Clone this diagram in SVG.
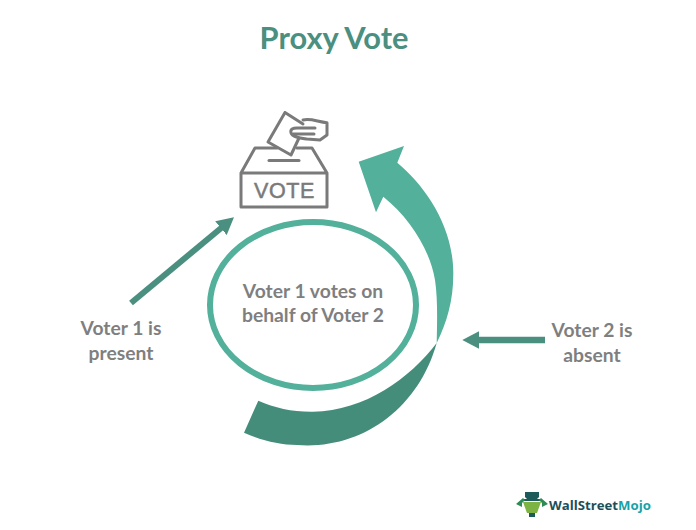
<svg xmlns="http://www.w3.org/2000/svg" width="696" height="530" viewBox="0 0 696 530">
<defs>
<style>
.t{font-family:Lato,"Open Sans",sans-serif;font-weight:700;font-size:19.3px;fill:#7f7f7f;text-anchor:middle}
.i{fill:none;stroke:#7a7a7a;stroke-width:3;stroke-linejoin:round;stroke-linecap:round}
</style>
<marker id="ah" markerUnits="userSpaceOnUse" markerWidth="17" markerHeight="18" refX="7" refY="9" orient="auto"><path d="M0 0L17 9L0 18Z" fill="#4a8f7f"/></marker>
</defs>
<rect width="696" height="530" fill="#fff"/>
<g id="title"><text x="334" y="49" text-anchor="middle" font-family="Lato,'Open Sans',sans-serif" font-weight="700" font-size="30.8" fill="#4a8f7f">Proxy Vote</text></g>
<g id="ballot-box">
<path class="i" d="M241 173H327V207H241ZM241 173L255 148H277M297 148H312L327 173"/>
<path class="i" d="M269 160.500H299"/>
<path class="i" d="M285 112.500L268 142L291 155L299 138M285 112.500L303 124"/>
<path class="i" d="M303 120C311 118 318 122 327 122.700V135L320 140L307 139C300 138 292 137 291 133C290 129 293 128 297 128L315 128M293 134H314"/>
<text x="284.500" y="197.700" text-anchor="middle" font-family="'Liberation Sans',sans-serif" font-size="21.500" letter-spacing="0.600" stroke="#7a7a7a" stroke-width="0.500" fill="#7a7a7a">VOTE</text>
</g>
<g id="connectors">
<path d="M131 303L226.300 223.700" fill="none" stroke="#4a8f7f" stroke-width="6" marker-end="url(#ah)"/>
<path d="M545 340H472.300" fill="none" stroke="#4a8f7f" stroke-width="6.500" marker-end="url(#ah)"/>
</g>
<g id="curved-arrow">
<path fill="#458d7b" d="M436.700 343C410 378 365 411 313 411.700C293 412 275 408 258.300 400.700L244 432.700C262 441 280 445 297 445C360 450 418 410 436.700 343Z"/>
<path fill="#53b09a" d="M358.700 161.700L404 146L397.300 162.700C425 186 453 225 453.300 273C453.500 300 447 322 436.700 343C437 325 438 300 435 280C430 250 410 218 383.300 196.700L376 212.300Z"/>
</g>
<g id="center">
<ellipse cx="313" cy="305" rx="103" ry="83" fill="#fff" stroke="#53b09a" stroke-width="6"/>
<text class="t" x="313" y="298">Voter 1 votes on</text>
<text class="t" x="313" y="322">behalf of Voter 2</text>
</g>
<g id="voter1"><text class="t" x="121" y="335">Voter 1 is</text><text class="t" x="121" y="360">present</text></g>
<g id="voter2"><text class="t" x="592" y="337">Voter 2 is</text><text class="t" x="592" y="362">absent</text></g>
<g id="logo">
<path fill="#1d5b5b" d="M525 492H539V497L537 499H541V501H523V499H527L525 497ZM529 513H535V517H529Z"/>
<path fill="#7cb342" d="M523 502H541L537 513H527Z"/>
<path fill="#2e8b57" d="M516 504L523 498L525 500L522 503V507ZM548 504L541 498L539 500L542 503V507Z"/>
<text x="549" y="510" font-family="'Open Sans','Noto Sans',sans-serif" font-weight="700" font-size="13.200"><tspan fill="#1d4f57">WallStreet</tspan><tspan fill="#17a2a8">Mojo</tspan></text>
</g>
</svg>
